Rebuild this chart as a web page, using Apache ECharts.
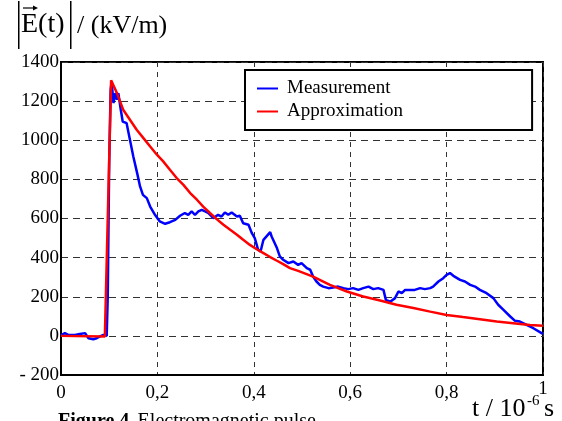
<!DOCTYPE html>
<html>
<head>
<meta charset="utf-8">
<script src="https://cdn.jsdelivr.net/npm/echarts@6/dist/echarts.min.js"></script>
<style>
  html, body { margin: 0; padding: 0; background: #fff; }
  #chart { width: 562px; height: 421px; }
</style>
</head>
<body>
<div id="chart"></div>
<script>
// measured pulse, t in 10^-6 s, E in kV/m
const measT = [0, 0.008, 0.015, 0.029, 0.039, 0.050, 0.057, 0.067, 0.074, 0.081, 0.088, 0.0948,
  0.097, 0.100, 0.103, 0.105, 0.109, 0.112, 0.116, 0.119, 0.124, 0.128, 0.136, 0.143, 0.150,
  0.158, 0.164, 0.170, 0.178, 0.185, 0.195, 0.205, 0.216, 0.226, 0.237, 0.247, 0.257, 0.264,
  0.271, 0.278, 0.285, 0.292, 0.299, 0.306, 0.316, 0.326, 0.333, 0.340, 0.347, 0.354, 0.365,
  0.371, 0.378, 0.389, 0.396, 0.402, 0.409, 0.414, 0.420, 0.434, 0.437, 0.448, 0.454, 0.461,
  0.472, 0.482, 0.492, 0.499, 0.510, 0.517, 0.523, 0.530, 0.537, 0.544, 0.555, 0.565, 0.575,
  0.586, 0.596, 0.606, 0.617, 0.627, 0.638, 0.648, 0.658, 0.669, 0.674, 0.683, 0.693, 0.700,
  0.707, 0.714, 0.724, 0.734, 0.745, 0.755, 0.766, 0.772, 0.783, 0.793, 0.800, 0.807, 0.814,
  0.828, 0.838, 0.849, 0.859, 0.869, 0.883, 0.897, 0.907, 0.918, 0.932, 0.942, 0.952, 0.966,
  0.980, 0.997, 1.0];
const measV = [3, 14, 5, 5, 10, 14, -12, -17, -12, -3, 5, 0,
  200, 885, 1258, 1300, 1190, 1241, 1207, 1241, 1156, 1096, 1088, 1003, 917,
  832, 764, 721, 704, 661, 619, 585, 573, 581, 593, 614, 628, 619,
  636, 619, 636, 644, 636, 628, 602, 619, 610, 631, 619, 631, 610,
  614, 576, 568, 525, 500, 440, 431, 491, 530, 508, 449, 406, 389,
  372, 380, 363, 372, 346, 338, 303, 278, 261, 252, 244, 247, 252,
  244, 239, 244, 235, 244, 252, 239, 244, 235, 184, 175, 193, 227,
  218, 235, 235, 235, 244, 239, 244, 252, 278, 295, 312, 321, 307,
  286, 278, 261, 252, 235, 218, 193, 159, 133, 99, 77, 73, 56,
  39, 14, 10];

// approximation curve
const approxT = [0, 0.091, 0.104, 0.116, 0.129, 0.143, 0.157, 0.171, 0.185, 0.199, 0.212,
  0.226, 0.240, 0.254, 0.268, 0.282, 0.295, 0.309, 0.323, 0.337, 0.351, 0.365, 0.378, 0.392,
  0.406, 0.420, 0.434, 0.448, 0.461, 0.475, 0.492, 0.523, 0.558, 0.593, 0.627, 0.662, 0.696,
  0.731, 0.766, 0.800, 0.834, 0.869, 0.904, 0.938, 0.973, 1.0];
const approxV = [0, -3, 1306, 1241, 1156, 1105, 1054, 1011, 968, 926, 892,
  849, 807, 772, 730, 696, 661, 628, 597, 568, 542, 517, 491, 465,
  443, 423, 403, 384, 367, 346, 332, 303, 261, 227, 201, 181, 159,
  142, 124, 107, 96, 85, 73, 65, 56, 52];

const seriesNames = ["Measurement", "Approximation"];

const FONT = "Liberation Serif";

const chart = echarts.init(document.getElementById("chart"));

const zip = (a, b) => a.map((v, i) => [v, b[i]]);

const option = {
  animation: false,
  backgroundColor: "#fff",
  textStyle: { fontFamily: FONT },
  grid: {
    left: 61, right: 19, top: 62, bottom: 46,
    show: true, borderColor: "#000", borderWidth: 2, backgroundColor: "transparent"
  },
  legend: {
    data: seriesNames,
    orient: "vertical",
    left: 245, top: 70,
    backgroundColor: "#fff",
    borderColor: "#000",
    borderWidth: 2,
    borderRadius: 0,
    padding: [9, 129, 9, 12],
    itemGap: 4,
    itemWidth: 21,
    itemHeight: 19,
    icon: "path://M0,8.5 L21,8.5 L21,10.5 L0,10.5 Z",
    textStyle: { fontFamily: FONT, fontSize: 19, color: "#000", padding: [0, 0, 0, 4] }
  },
  xAxis: {
    type: "value",
    min: 0, max: 1, interval: 0.2,
    axisLine: { onZero: false, lineStyle: { color: "#000", width: 2 } },
    axisTick: { show: false },
    splitLine: { lineStyle: { color: "#333", type: [5, 5], width: 1 } },
    axisLabel: {
      margin: 1,
      color: "#000",
      fontFamily: FONT,
      fontSize: 19,
      formatter: (v) => {
        if (v === 1) return "{up|1}";
        const s = v === 0 ? "0" : v.toFixed(1).replace(".", ",");
        return "{n|" + s + "}";
      },
      rich: {
        n: { fontFamily: FONT, fontSize: 19, color: "#000", padding: [8, 0, 0, 0] },
        up: { fontFamily: FONT, fontSize: 19, color: "#000", padding: [4, 0, 0, 0] }
      }
    }
  },
  yAxis: {
    type: "value",
    min: -200, max: 1400, interval: 200,
    axisLine: { onZero: false, lineStyle: { color: "#000", width: 2 } },
    axisTick: { show: false },
    splitLine: { lineStyle: { color: "#333", type: [7, 5], width: 1 } },
    axisLabel: {
      margin: 2,
      color: "#000",
      fontFamily: FONT,
      fontSize: 19,
      formatter: (v) => (v < 0 ? "- " + Math.abs(v) : String(v))
    }
  },
  series: [
    {
      name: seriesNames[0],
      type: "line",
      data: zip(measT, measV),
      showSymbol: false,
      color: "#0000ff",
      lineStyle: { color: "#0000ff", width: 2.5 },
      z: 3
    },
    {
      name: seriesNames[1],
      type: "line",
      data: zip(approxT, approxV),
      showSymbol: false,
      color: "#ff0000",
      lineStyle: { color: "#ff0000", width: 2.5 },
      z: 4
    }
  ],
  graphic: [
    // y axis title |E(t)| / (kV/m)
    { type: "rect", shape: { x: 18, y: 1, width: 1.5, height: 48 }, style: { fill: "#000" } },
    { type: "rect", shape: { x: 70, y: 1, width: 1.5, height: 48 }, style: { fill: "#000" } },
    { type: "text", left: 21, top: 11, style: { text: "E(t)", font: "28px '" + FONT + "'", fill: "#000" } },
    { type: "line", shape: { x1: 23, y1: 8, x2: 36, y2: 8 }, style: { stroke: "#000", lineWidth: 1.2 } },
    { type: "polygon", shape: { points: [[33, 5.5], [38, 8], [33, 10.5]] }, style: { fill: "#000" } },
    { type: "text", left: 77, top: 13, style: { text: "/ (kV/m)", font: "26px '" + FONT + "'", fill: "#000" } },
    // x axis title t / 10^-6 s
    { type: "text", left: 472, top: 396, style: { text: "t / 10", font: "26px '" + FONT + "'", fill: "#000" } },
    { type: "text", left: 527, top: 394, style: { text: "-6", font: "15px '" + FONT + "'", fill: "#000" } },
    { type: "text", left: 544, top: 396, style: { text: "s", font: "26px '" + FONT + "'", fill: "#000" } },
    // caption (cut off at the bottom)
    {
      type: "text", left: 58, top: 412,
      style: {
        text: "{b|Figure 4.} {r|Electromagnetic pulse}",
        rich: {
          b: { fontFamily: FONT, fontSize: 20, fontWeight: "bold", fill: "#000" },
          r: { fontFamily: FONT, fontSize: 20, fill: "#000" }
        }
      }
    }
  ]
};

chart.setOption(option);
</script>
</body>
</html>
